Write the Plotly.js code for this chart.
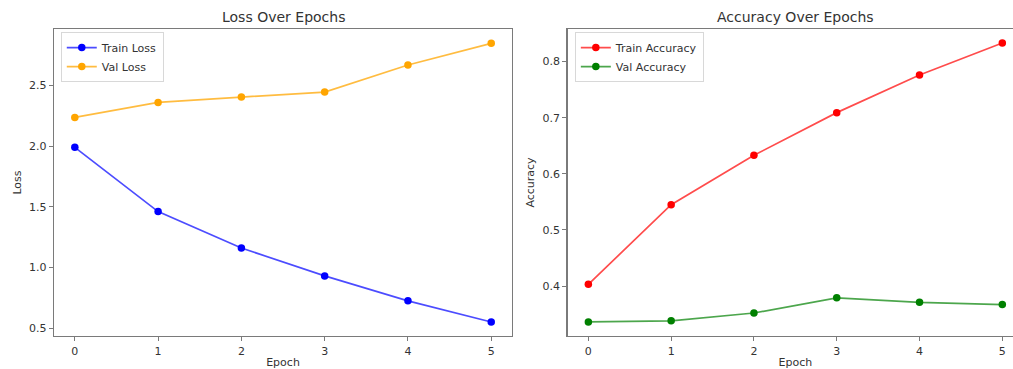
<!DOCTYPE html>
<html>
<head>
<meta charset="utf-8">
<script src="https://cdn.plot.ly/plotly-3.0.1.min.js"></script>
<style>
html,body{margin:0;padding:0;overflow:hidden;background:#fff;width:1013px;height:369px;}
#chart{width:1030px;height:369px;}
</style>
</head>
<body>
<div id="chart"></div>
<script>
const epochs = [0, 1, 2, 3, 4, 5];
const trainLoss = [1.99, 1.46, 1.16, 0.93, 0.725, 0.55];
const valLoss = [2.236, 2.36, 2.404, 2.445, 2.668, 2.847];
const trainAcc = [0.403, 0.545, 0.633, 0.709, 0.776, 0.833];
const valAcc = [0.336, 0.338, 0.352, 0.379, 0.371, 0.367];
const tickLossVals = [0.5, 1.0, 1.5, 2.0, 2.5];
const tickLossText = ['0.5', '1.0', '1.5', '2.0', '2.5'];
const tickAccVals = [0.4, 0.5, 0.6, 0.7, 0.8];
const tickAccText = ['0.4', '0.5', '0.6', '0.7', '0.8'];

function series(x, y, name, line, mark, xa, ya, leg) {
  return {
    x: x, y: y, name: name, type: 'scatter', mode: 'lines+markers',
    xaxis: xa, yaxis: ya, legend: leg,
    line: {color: line, width: 1.7},
    marker: {color: mark, size: 7.5}
  };
}

const data = [
  series(epochs, trainLoss, 'Train Loss', 'rgba(0,0,255,0.7)', '#0000ff', 'x', 'y', 'legend'),
  series(epochs, valLoss, 'Val Loss', 'rgba(255,165,0,0.75)', '#ffa500', 'x', 'y', 'legend'),
  series(epochs, trainAcc, 'Train Accuracy', 'rgba(255,0,0,0.7)', '#ff0000', 'x2', 'y2', 'legend2'),
  series(epochs, valAcc, 'Val Accuracy', 'rgba(0,128,0,0.7)', '#008000', 'x2', 'y2', 'legend2')
];

const axisCommon = {
  showline: true, mirror: true, linecolor: '#7a7a7a', linewidth: 1.4,
  ticks: 'outside', ticklen: 4, tickwidth: 1, tickcolor: '#7a7a7a',
  showgrid: false, zeroline: false,
  tickfont: {family: 'DejaVu Sans', size: 11, color: '#333'}
};

const layout = {
  width: 1030, height: 369,
  margin: {l: 54, r: 7, t: 29, b: 33},
  paper_bgcolor: '#fff', plot_bgcolor: '#fff',
  font: {family: 'DejaVu Sans', color: '#333'},
  xaxis: Object.assign({}, axisCommon, {
    domain: [0, 0.4727], range: [-0.25, 5.25], tickvals: epochs, ticktext: epochs.map(String),
    title: {text: 'Epoch', font: {size: 11, color: '#333'}, standoff: 3}, anchor: 'y'
  }),
  yaxis: Object.assign({}, axisCommon, {
    range: [0.435, 2.965], tickvals: tickLossVals, ticktext: tickLossText,
    title: {text: 'Loss', font: {size: 11, color: '#333'}, standoff: 5}, anchor: 'x'
  }),
  xaxis2: Object.assign({}, axisCommon, {
    domain: [0.5301, 1], range: [-0.25, 5.25], tickvals: epochs, ticktext: epochs.map(String),
    title: {text: 'Epoch', font: {size: 11, color: '#333'}, standoff: 3}, anchor: 'y2'
  }),
  yaxis2: Object.assign({}, axisCommon, {
    range: [0.311, 0.858], tickvals: tickAccVals, ticktext: tickAccText,
    title: {text: 'Accuracy', font: {size: 11, color: '#333'}, standoff: 5}, anchor: 'x2'
  }),
  legend: {
    x: 0.007, y: 0.99, xanchor: 'left', yanchor: 'top',
    bordercolor: '#d8d8d8', borderwidth: 1, bgcolor: 'rgba(255,255,255,0.85)',
    font: {family: 'DejaVu Sans', size: 11, color: '#333'}, tracegroupgap: 0
  },
  legend2: {
    x: 0.5375, y: 0.99, xanchor: 'left', yanchor: 'top',
    bordercolor: '#d8d8d8', borderwidth: 1, bgcolor: 'rgba(255,255,255,0.85)',
    font: {family: 'DejaVu Sans', size: 11, color: '#333'}, tracegroupgap: 0
  },
  annotations: [
    {text: 'Loss Over Epochs', xref: 'paper', yref: 'paper', x: 0.23635, y: 1, xanchor: 'center', yanchor: 'bottom', yshift: 2, showarrow: false, font: {family: 'DejaVu Sans', size: 14, color: '#333'}},
    {text: 'Accuracy Over Epochs', xref: 'paper', yref: 'paper', x: 0.76505, y: 1, xanchor: 'center', yanchor: 'bottom', yshift: 2, showarrow: false, font: {family: 'DejaVu Sans', size: 14, color: '#333'}}
  ],
  showlegend: true
};

Plotly.newPlot('chart', data, layout, {displayModeBar: false, staticPlot: true});
</script>
</body>
</html>
